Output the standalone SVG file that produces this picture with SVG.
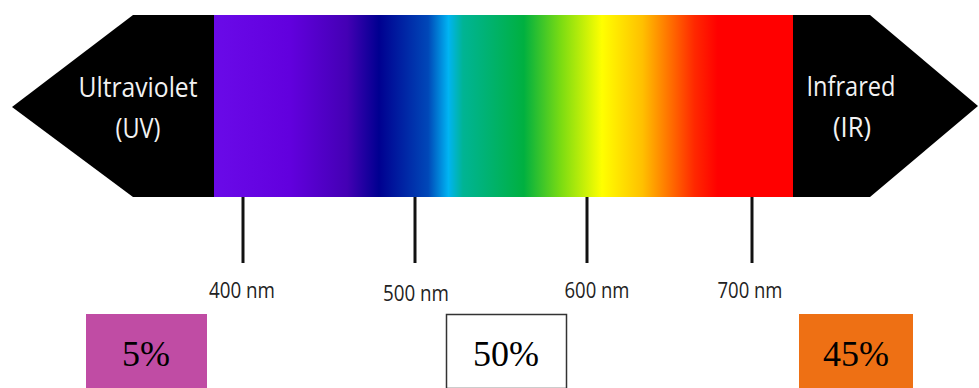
<svg xmlns="http://www.w3.org/2000/svg" width="979" height="388" viewBox="0 0 979 388">
  <style>
    .band { font-family: "Open Sans", "Liberation Sans", sans-serif; fill: #f2f2f2; font-size: 27px; text-anchor: middle; }
    .nm { font-family: "Open Sans", "Liberation Sans", sans-serif; fill: #222222; font-size: 21px; text-anchor: middle; }
    .pct { font-family: "Liberation Serif", "Times New Roman", serif; fill: #000000; font-size: 36px; text-anchor: middle; }
    .tick { stroke: #111111; stroke-width: 3; }
  </style>
  <defs>
    <linearGradient id="spec" x1="214" y1="0" x2="793" y2="0" gradientUnits="userSpaceOnUse">
      <stop offset="0" stop-color="#6A0AE8"/>
      <stop offset="0.13" stop-color="#6200DE"/>
      <stop offset="0.23" stop-color="#4400B4"/>
      <stop offset="0.285" stop-color="#000090"/>
      <stop offset="0.37" stop-color="#0048B8"/>
      <stop offset="0.405" stop-color="#00B4F2"/>
      <stop offset="0.43" stop-color="#00B494"/>
      <stop offset="0.535" stop-color="#00B040"/>
      <stop offset="0.6" stop-color="#7CDC12"/>
      <stop offset="0.67" stop-color="#FFFF00"/>
      <stop offset="0.74" stop-color="#FFC000"/>
      <stop offset="0.83" stop-color="#FF2800"/>
      <stop offset="0.87" stop-color="#FF0000"/>
      <stop offset="1" stop-color="#FF0000"/>
    </linearGradient>
  </defs>
  <rect width="979" height="388" fill="#ffffff"/>

  <g id="spectrum">
    <rect x="214" y="15" width="579" height="182" fill="url(#spec)"/>
  </g>

  <g id="uv">
    <polygon points="12,107 133,15 214,15 214,197 133,197" fill="#000000"/>
    <text class="band" x="138" y="97" textLength="119" lengthAdjust="spacingAndGlyphs">Ultraviolet</text>
    <text class="band" x="138" y="138" textLength="45" lengthAdjust="spacingAndGlyphs">(UV)</text>
  </g>

  <g id="ir">
    <polygon points="793,15 870,15 978,106 870,197 793,197" fill="#000000"/>
    <text class="band" x="851" y="96" textLength="89" lengthAdjust="spacingAndGlyphs">Infrared</text>
    <text class="band" x="852" y="137" textLength="38" lengthAdjust="spacingAndGlyphs">(IR)</text>
  </g>

  <g id="ticks">
    <line class="tick" x1="243" y1="197" x2="243" y2="263"/>
    <line class="tick" x1="415" y1="197" x2="415" y2="263"/>
    <line class="tick" x1="587" y1="197" x2="587" y2="263"/>
    <line class="tick" x1="752" y1="197" x2="752" y2="263"/>
  </g>

  <g id="labels">
    <text class="nm" x="242" y="298" textLength="66" lengthAdjust="spacingAndGlyphs">400 nm</text>
    <text class="nm" x="416" y="301" textLength="66" lengthAdjust="spacingAndGlyphs">500 nm</text>
    <text class="nm" x="597" y="298" textLength="65" lengthAdjust="spacingAndGlyphs">600 nm</text>
    <text class="nm" x="750" y="298" textLength="65" lengthAdjust="spacingAndGlyphs">700 nm</text>
  </g>

  <g id="box-uv">
    <rect x="86" y="314" width="121" height="74" fill="#C04CA4"/>
    <text class="pct" x="146" y="366">5%</text>
  </g>
  <g id="box-visible">
    <rect x="446.5" y="314.5" width="120" height="74" fill="#ffffff" stroke="#333333" stroke-width="1.5"/>
    <text class="pct" x="506" y="366">50%</text>
  </g>
  <g id="box-ir">
    <rect x="799" y="314" width="114" height="74" fill="#EE7014"/>
    <text class="pct" x="856" y="366">45%</text>
  </g>
</svg>
